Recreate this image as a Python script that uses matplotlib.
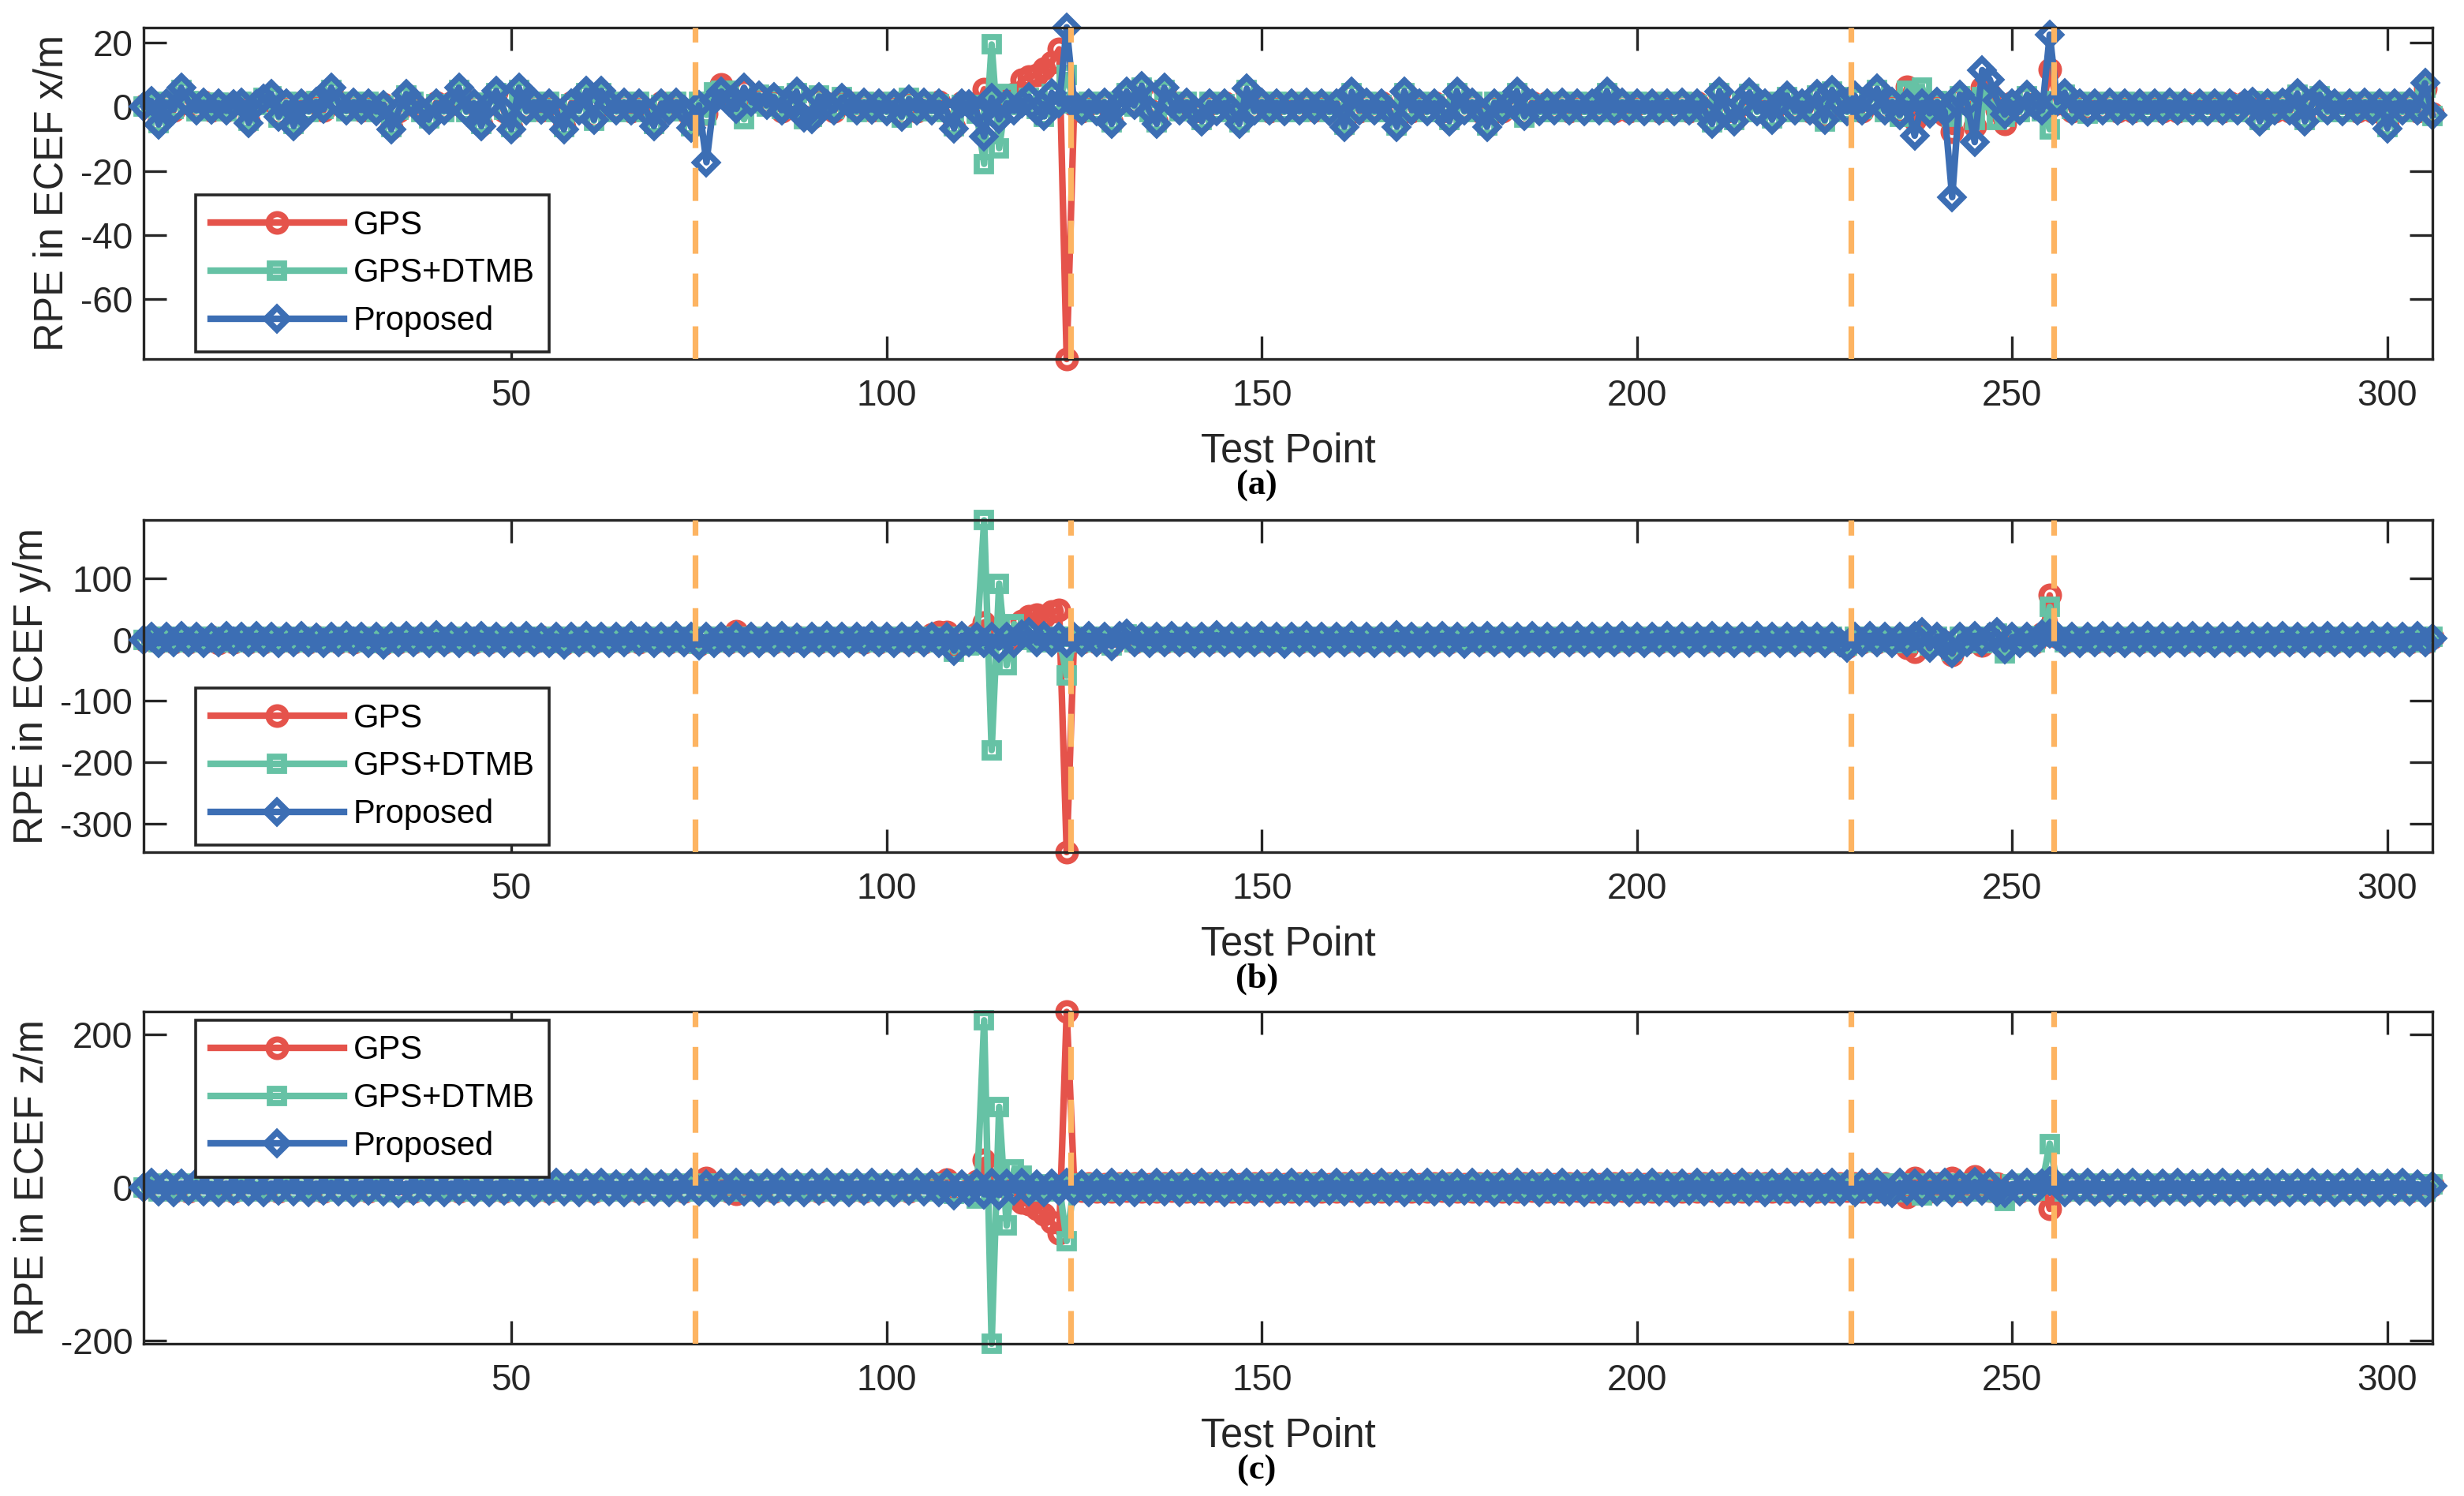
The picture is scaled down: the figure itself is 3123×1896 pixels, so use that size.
"""RPE in ECEF x/y/z for GPS, GPS+DTMB and the proposed method, three stacked panels."""

import matplotlib
matplotlib.use("Agg")
import matplotlib.pyplot as plt
import numpy as np

plt.rcParams["font.family"] = ["Liberation Sans", "DejaVu Sans"]
plt.rcParams["axes.unicode_minus"] = False

# %% data (one value per test point, 306 points)

PA_PROP = [
    0.0, 1.8, -5.5, 1.2, -0.8, 6.0, 1.5, -1.0, 1.3, -0.9,
    1.1, -1.2, 0.9, 1.4, -5.0, 0.8, 2.5, 4.0, -3.0, 1.2,
    -6.0, 1.0, -1.3, 1.5, -0.7, 6.0, 1.2, -1.1, 1.4, -0.9,
    1.2, -1.4, 0.6, -7.0, -1.0, 4.0, 1.3, -1.5, -4.0, 1.1,
    -1.2, 1.0, 6.0, -1.3, 1.1, -6.0, 0.9, 5.0, -1.0, -7.0,
    6.0, -1.2, 1.4, -0.8, 1.2, -1.4, -7.0, 1.0, -1.1, 5.0,
    -4.0, 5.0, 1.1, -1.2, 1.3, -1.0, 1.2, -1.3, -6.0, 1.0,
    -1.1, 1.4, -0.9, -6.5, 0.5, -17.3, 2.0, 4.8, 1.5, -0.6,
    6.0, 1.5, 3.5, 0.5, 3.0, -1.0, 1.2, 4.8, -3.4, -3.8,
    3.2, 0.8, -1.0, 2.8, 1.0, -1.2, 1.3, -0.8, 1.1, -1.3,
    1.2, -3.0, 2.4, -1.0, 1.3, -1.1, 1.2, -1.4, -6.7, 1.0,
    0.9, -1.5, -9.2, 2.8, -3.9, 1.1, -1.2, 1.0, 3.2, -1.0,
    -2.9, 4.4, 1.0, 24.9, 0.8, -1.0, 1.2, -1.3, 1.4, -5.3,
    1.0, 4.8, 0.5, 6.6, -1.2, -5.3, 6.0, 1.0, -1.1, 1.3,
    -1.0, -4.5, 1.2, -1.3, 1.1, -0.9, -5.3, 5.7, -1.2, 1.4,
    -1.0, 1.2, -1.3, 1.1, -1.2, 1.3, -0.9, 1.2, -1.4, 1.0,
    -6.2, 4.7, -1.1, 1.3, -1.2, 1.0, -1.3, -6.2, 4.9, -1.0,
    1.2, -1.4, 1.1, -1.0, -4.5, 4.9, -1.2, 1.3, -1.1, -6.2,
    1.2, -1.0, 1.3, 4.9, -2.9, 1.1, -1.3, 1.0, -1.2, 1.4,
    -1.1, 1.2, -1.3, 1.0, -1.2, 4.9, -1.0, 1.3, -1.1, 1.2,
    -1.3, 1.1, -1.0, 1.2, -1.4, 1.3, -1.1, 1.0, -1.2, -5.3,
    4.9, -1.0, -4.5, 1.2, 4.5, -1.3, 1.1, -4.0, 1.3, 3.5,
    -1.2, 1.0, -1.1, 4.0, -4.1, 5.3, 1.2, -1.3, 3.5, -1.0,
    2.0, 5.7, -1.2, 1.5, -2.5, 1.0, -9.0, 1.2, -2.0, 1.5,
    -1.5, -28.2, 3.8, 1.0, -11.0, 11.5, 8.6, 2.0, -2.4, 1.0,
    -1.2, 3.8, 0.5, -1.0, 22.6, 1.5, 4.4, -1.0, 1.2, -1.6,
    1.1, -1.2, 1.3, -1.0, 1.2, -1.1, 1.0, -1.3, 1.2, -1.0,
    1.3, -1.1, 1.0, -1.2, 1.1, -1.3, 1.2, -1.0, 1.1, -1.2,
    1.0, 1.5, -4.5, 1.2, -1.1, 1.3, -1.0, 4.2, -4.5, 1.1,
    3.8, -1.2, 1.0, -1.3, 1.2, -1.1, 1.3, -1.0, 1.2, -6.7,
    1.0, -1.2, 1.3, -1.0, 7.4, -2.5,
]

PA_GPS = [
    0.3, 1.5, -4.8, 1.0, -1.1, 5.5, 1.2, -0.7, 1.6, -1.2,
    0.8, -1.0, 1.2, 1.1, -4.6, 1.0, 2.2, 3.6, -2.6, 0.9,
    -5.6, 1.3, -1.0, 1.2, -1.0, 5.6, 1.5, -0.8, 1.1, -1.2,
    0.9, -1.1, 0.9, -6.5, -1.3, 3.7, 1.0, -1.2, -3.6, 1.4,
    -0.9, 1.3, 5.6, -1.0, 0.8, -5.5, 1.2, 4.6, -1.3, -6.5,
    5.5, -0.9, 1.1, -1.1, 0.9, -1.1, -6.4, 1.3, -0.8, 4.6,
    -3.6, 4.6, 1.4, -0.9, 1.0, -1.3, 0.9, -1.0, -5.6, 1.3,
    -0.8, 1.1, -1.2, -6.0, 0.8, -2.0, 3.0, 7.0, 2.0, 0.5,
    5.5, 1.8, 3.0, 0.8, 2.6, -1.3, 1.5, 4.4, -3.0, -3.4,
    2.8, 1.1, -1.3, 2.4, 1.3, -0.9, 1.0, -1.1, 1.4, -1.0,
    0.9, -2.6, 2.0, -1.3, 1.0, -0.8, 1.5, -1.1, -6.2, 1.3,
    1.2, -1.0, 5.5, 2.0, 1.0, 2.0, 4.0, 8.5, 9.5, 10.0,
    12.0, 14.0, 18.0, -78.8, 0.5, -1.3, 0.9, -1.0, 1.1, -4.8,
    1.3, 4.4, 0.8, 6.0, -0.9, -4.9, 5.6, 1.3, -0.8, 1.0,
    -1.3, -4.1, 0.9, -1.0, 1.4, -1.2, -4.9, 5.2, -0.9, 1.1,
    -1.3, 0.9, -1.0, 1.4, -0.9, 1.0, -1.2, 0.9, -1.1, 1.3,
    -5.7, 4.3, -1.4, 1.0, -0.9, 1.3, -1.0, -5.7, 4.5, -1.3,
    0.9, -1.1, 1.4, -1.3, -4.1, 4.5, -0.9, 1.0, -1.4, -5.7,
    0.9, -1.3, 1.0, 4.5, -2.6, 1.4, -1.0, 1.3, -0.9, 1.1,
    -1.4, 0.9, -1.0, 1.3, -0.9, 4.5, -1.3, 1.0, -1.4, 0.9,
    -1.0, 1.4, -1.3, 0.9, -1.1, 1.0, -1.4, 1.3, -0.9, -4.9,
    4.5, -1.3, -4.1, 0.9, 4.1, -1.0, 1.4, -3.6, 1.0, 3.1,
    -0.9, 1.3, -1.4, 3.6, -3.7, 4.9, 1.5, -1.0, 3.1, -1.3,
    2.4, 5.2, -0.9, 1.2, -2.0, 6.2, -4.0, 2.0, -1.5, 1.0,
    -2.5, -7.8, 3.0, 1.5, -6.0, 6.0, 4.0, -1.0, -5.3, 1.4,
    -0.9, 3.4, 1.0, -0.5, 11.6, 1.0, 4.0, -1.4, 0.9, -1.2,
    1.4, -0.9, 1.0, -1.3, 0.9, -1.4, 1.3, -1.0, 0.9, -1.3,
    1.0, -1.4, 1.3, -0.9, 1.4, -1.0, 0.9, -1.3, 1.4, -0.9,
    1.3, 1.2, -4.1, 0.9, -1.4, 1.0, -1.3, 3.8, -4.1, 1.4,
    3.4, -0.9, 1.3, -1.0, 0.9, -1.4, 1.0, -1.3, 0.9, -6.1,
    1.3, -0.9, 1.0, -1.3, 5.7, -2.0,
]

PA_DTMB = [
    0.2, 1.2, -5.0, 1.5, -0.6, 5.2, 1.8, -1.3, 1.0, -0.7,
    1.4, -1.4, 0.7, 1.6, -4.4, 0.6, 2.8, 3.4, -3.3, 1.5,
    -5.3, 0.8, -1.5, 1.8, -0.5, 5.3, 0.9, -1.4, 1.7, -0.7,
    1.5, -1.6, 0.4, -6.3, -0.8, 3.5, 1.6, -1.7, -3.5, 0.8,
    -1.5, 0.8, 5.3, -1.6, 1.4, -5.4, 0.7, 4.4, -0.8, -6.4,
    5.3, -1.5, 1.7, -0.6, 1.5, -1.7, -6.3, 0.8, -1.4, 4.4,
    -4.3, 4.4, 0.8, -1.5, 1.6, -0.8, 1.5, -1.6, -5.4, 0.7,
    -1.4, 1.7, -0.7, -6.0, 1.5, -2.5, 4.5, 5.0, 5.0, 1.0,
    -3.9, 1.0, 3.8, 0.2, 3.4, -0.7, 0.9, 4.4, -3.8, -3.2,
    3.6, 0.5, -0.7, 3.2, 0.7, -1.5, 1.6, -0.6, 0.8, -1.6,
    1.5, -3.4, 2.8, -0.7, 1.6, -1.4, 0.9, -1.7, -6.0, 0.7,
    0.5, -2.0, -17.8, 19.5, -12.9, 4.0, 1.0, 0.5, 2.8, -0.7,
    -3.0, 4.0, 1.5, 10.0, 1.1, -0.7, 1.5, -1.6, 1.7, -4.7,
    0.7, 4.3, 0.2, 6.0, -1.5, -4.8, 5.4, 0.7, -1.4, 1.6,
    -0.7, -4.0, 1.5, -1.6, 0.8, -0.6, -4.7, 5.2, -1.5, 1.7,
    -0.7, 1.5, -1.6, 0.8, -1.5, 1.6, -0.6, 1.5, -1.7, 0.7,
    -5.6, 4.2, -0.8, 1.6, -1.5, 0.7, -1.6, -5.8, 4.4, -0.7,
    1.5, -1.7, 0.8, -0.7, -4.0, 4.4, -1.5, 1.6, -0.8, -5.8,
    1.5, -0.7, 1.6, 4.4, -3.3, 0.8, -1.6, 0.7, -1.5, 1.7,
    -0.8, 1.5, -1.6, 0.7, -1.5, 4.4, -0.7, 1.6, -0.8, 1.5,
    -1.6, 0.8, -0.7, 1.5, -1.7, 1.6, -0.8, 0.7, -1.5, -4.8,
    4.4, -0.7, -4.0, 1.5, 4.0, -1.6, 0.8, -3.5, 1.6, 3.0,
    -1.5, 0.7, -0.8, 3.5, -4.5, 4.8, 0.9, -1.6, 3.0, -0.7,
    1.6, 5.2, -1.5, 1.8, -3.0, 5.0, 4.0, 6.0, -1.0, 1.8,
    -1.0, -3.0, 3.3, 0.6, -4.0, 3.0, 2.0, -4.0, -3.0, 0.7,
    -1.5, 3.3, 0.2, -1.3, -7.0, 1.8, 3.9, -0.7, 1.5, -2.0,
    0.8, -1.5, 1.6, -0.7, 1.5, -0.8, 0.7, -1.6, 1.5, -0.7,
    1.6, -0.8, 0.7, -1.5, 0.8, -1.6, 1.5, -0.7, 0.8, -1.5,
    0.7, 1.8, -4.0, 1.5, -0.8, 1.6, -0.7, 3.7, -4.0, 0.8,
    3.3, -1.5, 0.7, -1.6, 1.5, -0.8, 1.6, -0.7, 1.5, -6.2,
    0.7, -1.5, 1.6, -0.7, 6.0, -2.8,
]

PB_PROP = [
    0, 5, -6, 4, -5, 6, -4, 5, -6, 3,
    -5, 6, -3, 5, -4, 6, -5, 4, -6, 5,
    -4, 6, -5, 3, -6, 5, -4, 6, -3, 5,
    -6, 4, -8, 5, -4, 6, -5, 4, -6, 7,
    -5, 4, -6, 5, -3, 6, -5, 4, -6, 5,
    -4, 6, -5, 3, -6, 5, -8, 4, -5, 6,
    -4, 5, -6, 4, -5, 6, -3, 5, -6, 4,
    -5, 6, -4, 5, -9, 4, -6, 5, -4, 6,
    -5, 4, -6, 5, -4, 6, -5, 3, -6, 5,
    -4, 6, -5, 4, -6, 5, -3, 6, -5, 4,
    -6, 5, -4, 6, -5, 4, -6, 5, -18, 6,
    -5, 4, -6, 5, -13, 4, -6, 8, 12, -5,
    6, -4, 5, -6, 4, -5, 6, -4, 5, -11,
    6, 10, -5, 4, -6, 5, -4, 6, -5, 4,
    -6, 5, -4, 7, -5, 4, -6, 5, -4, 6,
    -5, 4, -7, 5, -4, 6, -5, 4, -6, 5,
    -4, 6, -5, 4, -6, 5, -4, 7, -5, 4,
    -6, 5, -4, 6, -5, 4, -7, 5, -4, 6,
    -5, 4, -6, 5, -4, 6, -5, 4, -6, 5,
    -4, 6, -5, 4, -6, 5, -4, 6, -5, 4,
    -6, 5, -4, 6, -5, 4, -6, 5, -4, 6,
    -5, 4, -6, 5, -4, 6, -5, 4, -6, 5,
    -4, 6, -5, 4, -6, 5, -4, -14, 5, -4,
    6, -5, 4, -6, 5, -4, 6, 12, -14, 5,
    -6, -23, 4, -5, 6, -4, 5, 12, -16, 4,
    -6, 5, -4, 8, 10, 6, -5, 4, -6, 5,
    -4, 6, -5, 4, -6, 5, -4, 6, -5, 4,
    -6, 5, -4, 6, -5, 4, -6, 5, -4, 6,
    -5, 4, -6, 5, -4, 6, -5, 4, -6, 5,
    -4, 6, -5, 4, -6, 5, -4, 6, -5, 4,
    -6, 5, -4, 6, -5, 2,
]

PB_GPS = [
    0, 4, -5, 5, -4, 5, -5, 4, -5, 4,
    -6, 5, -4, 4, -5, 5, -4, 5, -5, 4,
    -5, 5, -4, 4, -5, 4, -5, 5, -4, 4,
    -5, 5, -7, 4, -5, 5, -4, 5, -5, 6,
    -4, 5, -5, 4, -4, 5, -4, 5, -5, 4,
    -5, 5, -4, 4, -5, 4, -7, 5, -4, 5,
    -5, 4, -5, 5, -4, 5, -4, 4, -5, 5,
    -4, 5, -5, 4, -8, 5, -5, 4, -5, 14,
    -4, 5, -5, 4, -5, 5, -4, 4, -5, 4,
    -5, 5, -4, 5, -5, 4, -4, 5, -4, 5,
    -5, 4, -5, 5, -4, 8, 12, 12, -10, 5,
    -4, 10, 28, 5, 4, 2, 0, 30, 38, 40,
    36, 45, 48, -346, 5, -4, 5, -5, 4, -9,
    5, 8, -4, 5, -5, 4, -5, 5, -4, 5,
    -5, 4, -5, 5, -4, 5, -5, 4, -5, 5,
    -4, 5, -5, 4, -5, 5, -4, 5, -5, 4,
    -5, 5, -4, 5, -5, 4, -5, 5, -4, 5,
    -5, 4, -5, 5, -4, 5, -5, 4, -5, 5,
    -4, 5, -5, 4, -5, 5, -4, 5, -5, 4,
    -5, 5, -4, 5, -5, 4, -5, 5, -4, 5,
    -5, 4, -5, 5, -4, 5, -5, 4, -5, 5,
    -4, 5, -5, 4, -5, 5, -4, 5, -5, 4,
    -5, 5, -4, 5, -5, 4, -5, -12, 4, -5,
    5, -4, 5, -5, 5, -13, -20, 8, -10, 4,
    -5, -25, 5, -4, 5, -10, 4, 8, -12, 5,
    -5, 4, -5, 10, 72, 5, -4, 5, -5, 4,
    -5, 5, -4, 5, -5, 4, -5, 5, -4, 5,
    -5, 4, -5, 5, -4, 5, -5, 4, -5, 5,
    -4, 5, -5, 4, -5, 5, -4, 5, -5, 4,
    -5, 5, -4, 5, -5, 4, -5, 5, -4, 5,
    -5, 4, -5, 5, -4, 3,
]

PB_DTMB = [
    0, 5, -4, 5, -5, 5, -5, 4, -5, 5,
    -4, 5, -5, 4, -5, 4, -4, 5, -5, 5,
    -4, 5, -5, 5, -4, 5, -5, 4, -4, 5,
    -5, 4, -6, 5, -5, 5, -4, 4, -5, 5,
    -5, 5, -4, 5, -5, 4, -4, 5, -5, 5,
    -4, 5, -4, 5, -5, 4, -6, 5, -5, 4,
    -4, 5, -5, 4, -5, 5, -5, 4, -4, 5,
    -5, 4, -5, 5, -7, 4, -4, 5, -5, 5,
    -5, 5, -4, 4, -5, 5, -4, 5, -5, 4,
    -5, 4, -4, 5, -5, 4, -5, 5, -5, 4,
    -4, 5, -5, 5, -4, 5, -5, 4, -20, 5,
    -10, -8, 194, -180, 91, -42, 25, 10, 0, -5,
    5, -4, 4, -59, 5, -5, 5, -4, 4, -9,
    5, 8, -5, 4, -5, 5, -4, 5, -5, 4,
    -4, 5, -5, 4, -5, 5, -4, 5, -5, 4,
    -5, 5, -4, 5, -5, 4, -5, 5, -4, 5,
    -5, 4, -5, 5, -4, 5, -5, 4, -5, 5,
    -4, 5, -5, 4, -5, 5, -4, 5, -5, 4,
    -5, 5, -4, 5, -5, 4, -5, 5, -4, 5,
    -5, 4, -5, 5, -4, 5, -5, 4, -5, 5,
    -4, 5, -5, 4, -5, 5, -4, 5, -5, 4,
    -5, 5, -4, 5, -5, 4, -5, 5, -4, 5,
    -5, 4, -5, 5, -4, 5, -5, -10, 4, -5,
    5, -4, 5, -5, 4, -6, 5, 5, -10, 4,
    -5, -18, 5, -4, 5, -6, 4, 10, -22, 5,
    -4, 5, -5, 6, 53, 5, -4, 5, -5, 4,
    -5, 4, -5, 5, -4, 5, -5, 4, -5, 5,
    -4, 5, -5, 4, -5, 5, -4, 5, -5, 4,
    -5, 5, -4, 5, -5, 4, -5, 5, -4, 5,
    -5, 4, -5, 5, -4, 5, -5, 4, -5, 5,
    -4, 5, -5, 4, -5, 4,
]

PC_PROP = [
    0, 6, -5, 4, -6, 5, -4, 6, -5, 4,
    -6, 5, -4, 6, -5, 3, -6, 5, -4, 6,
    -5, 4, -6, 5, -4, 6, -5, 4, -6, 5,
    -4, 6, -5, 4, -7, 5, -4, 6, -5, 4,
    -6, 5, -4, 6, -5, 4, -6, 5, -4, 6,
    -5, 4, -6, 5, -4, 6, -5, 4, -6, 5,
    -4, 6, -5, 4, -6, 5, -4, 6, -5, 4,
    -6, 5, -4, 6, -5, 4, -6, 5, -4, 6,
    -5, 4, -6, 5, -4, 6, -5, 4, -6, 5,
    -4, 6, -5, 4, -6, 5, -4, 6, -5, 4,
    -6, 5, -4, 6, -5, 4, -6, 5, -10, 4,
    -6, 5, -9, 6, -10, 5, -4, 6, -5, 4,
    -6, 5, -4, 6, -5, 4, -6, 5, -4, 6,
    -5, 4, -6, 5, -4, 6, -5, 4, -6, 5,
    -4, 6, -5, 4, -6, 5, -4, 6, -5, 4,
    -6, 5, -4, 6, -5, 4, -6, 5, -4, 6,
    -5, 4, -6, 5, -4, 6, -5, 4, -6, 5,
    -4, 6, -5, 4, -6, 5, -4, 6, -5, 4,
    -6, 5, -4, 6, -5, 4, -6, 5, -4, 6,
    -5, 4, -6, 5, -4, 6, -5, 4, -6, 5,
    -4, 6, -5, 4, -6, 5, -4, 6, -5, 4,
    -6, 5, -4, 6, -5, 4, -6, 5, -4, 6,
    -5, 4, -6, 5, -4, 6, -5, 4, -6, 5,
    -4, 6, -5, -7, 6, -4, 5, -6, 4, -5,
    6, -6, 4, -5, 7, -4, 5, -6, -7, 4,
    -5, 6, -4, 5, 8, 4, -6, 5, -4, 6,
    -5, 4, -6, 5, -4, 6, -5, 4, -6, 5,
    -4, 6, -5, 4, -6, 5, -4, 6, -5, 4,
    -6, 5, -4, 6, -5, 4, -6, 5, -4, 6,
    -5, 4, -6, 5, -4, 6, -5, 4, -6, 5,
    -4, 6, -5, 4, -6, 2,
]

PC_GPS = [
    0, 5, -4, 5, -5, 4, -5, 5, -4, 5,
    -5, 4, -5, 5, -4, 4, -5, 4, -5, 5,
    -4, 5, -5, 4, -5, 5, -4, 5, -5, 4,
    -5, 5, -4, 5, -6, 4, -5, 5, -4, 5,
    -5, 4, -5, 5, -4, 5, -5, 4, -5, 5,
    -4, 5, -5, 4, -5, 5, -4, 5, -5, 4,
    -5, 5, -4, 5, -5, 4, -5, 5, -4, 5,
    -5, 4, -5, 5, 6, 12, 4, -2, -5, -8,
    -4, 5, -5, 4, -5, 5, -4, 5, -5, 4,
    -5, 5, -4, 5, -5, 4, -5, 5, -4, 5,
    -5, 4, -5, 5, -4, 5, 5, 10, -5, 4,
    -3, 8, 36, 10, 8, 0, -10, -20, -22, -28,
    -35, -45, -60, 229, 5, -4, 5, -5, 4, -5,
    5, -4, 5, -5, 4, -5, 5, -4, 5, -5,
    4, -5, 5, -4, 5, -5, 4, -5, 5, -4,
    5, -5, 4, -5, 5, -4, 5, -5, 4, -5,
    5, -4, 5, -5, 4, -5, 5, -4, 5, -5,
    4, -5, 5, -4, 5, -5, 4, -5, 5, -4,
    5, -5, 4, -5, 5, -4, 5, -5, 4, -5,
    5, -4, 5, -5, 4, -5, 5, -4, 5, -5,
    4, -5, 5, -4, 5, -5, 4, -5, 5, -4,
    5, -5, 4, -5, 5, -4, 5, -5, 4, -5,
    5, -4, 5, -5, 4, -5, 5, -4, 5, -5,
    4, -5, 5, -6, 5, -13, 12, 4, -5, 5,
    3, 12, -4, 5, 14, 2, -4, 5, -6, 4,
    -5, 5, -4, 5, -28, 4, -5, 5, -4, 5,
    -5, 4, -5, 5, -4, 5, -5, 4, -5, 5,
    -4, 5, -5, 4, -5, 5, -4, 5, -5, 4,
    -5, 5, -4, 5, -5, 4, -5, 5, -4, 5,
    -5, 4, -5, 5, -4, 5, -5, 4, -5, 5,
    -4, 5, -5, 4, -5, 3,
]

PC_DTMB = [
    0, 4, -5, 5, -4, 5, -5, 4, -5, 5,
    -4, 5, -5, 4, -5, 5, -4, 5, -5, 4,
    -5, 5, -4, 5, -5, 4, -5, 5, -4, 5,
    -5, 4, -5, 5, -6, 5, -5, 4, -5, 5,
    -4, 5, -5, 4, -5, 5, -4, 5, -5, 4,
    -5, 5, -4, 5, -5, 4, -5, 5, -4, 5,
    -5, 4, -5, 5, -4, 5, -5, 4, -5, 5,
    -4, 5, -5, 4, -5, 5, -4, 5, -5, 4,
    -5, 5, -4, 5, -5, 4, -5, 5, -4, 5,
    -5, 4, -5, 5, -4, 5, -5, 4, -5, 5,
    -4, 5, -5, 4, -5, 5, -4, 5, -8, 4,
    -6, -15, 218, -204, 105, -50, 24, 15, 5, -5,
    4, -5, 3, -70, 5, -4, 5, -5, 4, -5,
    5, -4, 5, -5, 4, -5, 5, -4, 5, -5,
    4, -5, 5, -4, 5, -5, 4, -5, 5, -4,
    5, -5, 4, -5, 5, -4, 5, -5, 4, -5,
    5, -4, 5, -5, 4, -5, 5, -4, 5, -5,
    4, -5, 5, -4, 5, -5, 4, -5, 5, -4,
    5, -5, 4, -5, 5, -4, 5, -5, 4, -5,
    5, -4, 5, -5, 4, -5, 5, -4, 5, -5,
    4, -5, 5, -4, 5, -5, 4, -5, 5, -4,
    5, -5, 4, -5, 5, -4, 5, -5, 4, -5,
    5, -4, 5, -5, 4, -5, 5, -4, 5, -5,
    4, -5, 5, -4, 5, -6, 5, -10, 4, -5,
    5, -4, 5, -5, 4, -5, 5, -6, -18, 4,
    -5, 5, -4, 5, 57, 4, -5, 5, -4, 5,
    -5, 4, -5, 5, -4, 5, -5, 4, -5, 5,
    -4, 5, -5, 4, -5, 5, -4, 5, -5, 4,
    -5, 5, -4, 5, -5, 4, -5, 5, -4, 5,
    -5, 4, -5, 5, -4, 5, -5, 4, -5, 5,
    -4, 5, -5, 4, -5, 4,
]

SERIES = ["GPS", "GPS+DTMB", "Proposed"]
SEG_BOUNDS = [74.5, 124.5, 228.5, 255.5]   # orange dashed separators
X_TICKS = [50, 100, 150, 200, 250, 300]

PANELS = [
    ("RPE in ECEF x/m", "(a)", [PA_GPS, PA_DTMB, PA_PROP], [-60, -40, -20, 0, 20], "lower"),
    ("RPE in ECEF y/m", "(b)", [PB_GPS, PB_DTMB, PB_PROP], [-300, -200, -100, 0, 100], "lower"),
    ("RPE in ECEF z/m", "(c)", [PC_GPS, PC_DTMB, PC_PROP], [-200, 0, 200], "upper"),
]

# %% styling
RED = "#E5534B"
GREEN = "#66C2A5"
BLUE = "#3C6EB4"
ORANGE = "#FDB462"
INK = "#262626"
STYLES = [
    dict(color=RED, marker="o", ms=8.0),
    dict(color=GREEN, marker="s", ms=6.5),
    dict(color=BLUE, marker="D", ms=7.0),
]
LW = 3.0
MEW = 2.8
VLW = 2.6

for s in PANELS:
    for arr in s[2]:
        assert len(arr) == 306, (s[0], len(arr))

fig = plt.figure(figsize=(15.615, 9.48), dpi=200)
AX_LEFT, AX_W, AX_H = 0.0583, 0.9289, 0.2218
BOTTOMS = [0.760, 0.4304, 0.1018]

for (ylabel, tag, data, yticks, leg_pos), bottom in zip(PANELS, BOTTOMS):
    ax = fig.add_axes([AX_LEFT, bottom, AX_W, AX_H])
    for name, vals, st in zip(SERIES, data, STYLES):
        x = np.arange(1, len(vals) + 1)
        ax.plot(x, vals, label=name, lw=LW, mfc="none", mew=MEW,
                clip_on=False, zorder=2, **st)
    for xb in SEG_BOUNDS:
        ax.axvline(xb, color=ORANGE, lw=VLW,
                   linestyle=(0, (15.1 / VLW, 9.0 / VLW)), zorder=3)

    allv = np.concatenate([np.asarray(v, dtype=float) for v in data])
    ax.set_xlim(1, len(data[0]))
    ax.set_ylim(allv.min(), allv.max())
    ax.set_xticks(X_TICKS)
    ax.set_yticks(yticks)

    ax.tick_params(direction="in", length=10.4, width=1.2, top=True, right=True,
                   labelsize=16.5, colors=INK)
    ax.tick_params(axis="x", pad=9)
    ax.tick_params(axis="y", pad=5)
    for sp in ax.spines.values():
        sp.set_color(INK)
        sp.set_linewidth(1.2)

    ax.set_xlabel("Test Point", fontsize=18.2, color=INK, labelpad=8.5)
    ax.set_ylabel(ylabel, fontsize=18.2, color=INK, labelpad=4)
    ax.text(0.4864, -0.382, tag, transform=ax.transAxes, ha="center", va="center",
            fontsize=16, fontweight="bold", family="Liberation Serif", color="black")

    if leg_pos == "lower":
        loc, anchor = "lower left", (0.0228, 0.0214)
    else:
        loc, anchor = "upper left", (0.0228, 0.976)
    leg = ax.legend(loc=loc, bbox_to_anchor=anchor, borderaxespad=0, fontsize=15,
                    handlelength=4.05, handletextpad=0.28, borderpad=0.45,
                    labelspacing=0.5, numpoints=1, fancybox=False,
                    framealpha=1, edgecolor=INK, labelcolor="black")
    leg.get_frame().set_linewidth(1.3)
    leg.set_zorder(5)

fig.savefig("out.png", dpi=200)
